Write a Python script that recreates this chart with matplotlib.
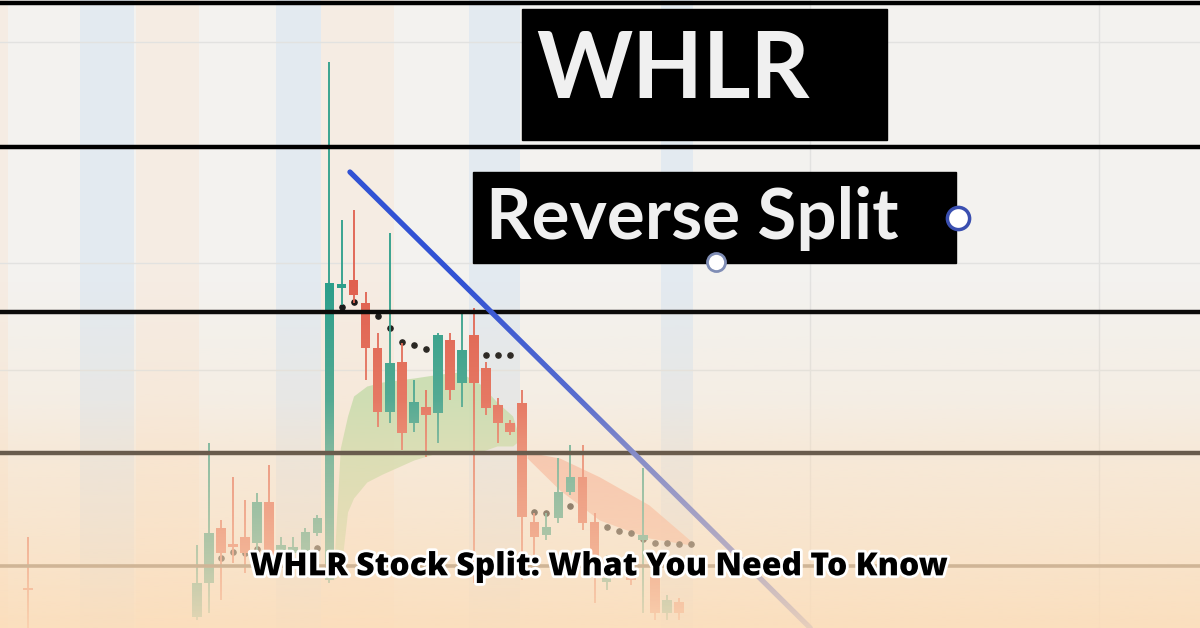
import numpy as np
import matplotlib.pyplot as plt
import matplotlib.patheffects as pe
from matplotlib.patches import Rectangle

# candle index (one step per session) and OHLC prices
cdl_idx = [-15, -1, 0, 1, 2, 3, 4, 5, 6, 7, 8, 9, 10, 11, 12, 13, 14, 15, 16, 17, 18, 19,
           20, 21, 22, 23, 24, 25, 26, 27, 28, 29, 30, 31, 32, 33, 35, 36, 37, 38, 39]
cdl_open = [0.97, 0.28, 1.13, 2.50, 2.10, 2.28, 2.13, 3.15, 1.78, 1.88, 1.88, 2.38, 1.20, 8.50,
            8.70, 8.13, 7.00, 5.40, 6.65, 5.13, 5.53, 5.38, 7.20, 6.13, 7.33, 6.50, 5.58, 5.13,
            5.63, 2.65, 2.33, 2.75, 3.40, 3.78, 2.65, 1.15, 1.33, 2.20, 1.28, 0.38, 0.65]
cdl_high = [2.28, 2.08, 4.63, 2.70, 3.78, 3.20, 3.38, 4.08, 2.28, 2.28, 2.50, 2.83, 14.15, 10.20,
            10.45, 8.40, 7.38, 9.88, 7.13, 6.20, 5.95, 7.38, 7.38, 7.88, 8.00, 6.65, 5.75, 5.20,
            5.95, 2.88, 2.88, 4.25, 4.58, 4.58, 2.88, 1.83, 1.45, 4.00, 1.45, 0.83, 0.75]
cdl_low = [0.00, 0.20, 0.38, 0.70, 1.63, 1.38, 1.88, 1.58, 1.65, 1.70, 1.78, 2.30, 1.13, 8.08,
           8.13, 6.20, 5.03, 5.13, 4.45, 4.90, 4.28, 4.63, 5.70, 5.53, 1.13, 5.33, 4.63, 4.83,
           1.20, 1.70, 2.20, 2.63, 3.33, 2.45, 0.63, 0.95, 1.08, 0.38, 0.20, 0.20, 0.20]
cdl_close = [0.95, 1.13, 2.38, 1.88, 2.03, 1.88, 3.15, 1.78, 2.08, 2.03, 2.40, 2.75, 8.63, 8.60,
             8.33, 7.00, 5.40, 6.63, 4.88, 5.65, 5.33, 7.33, 5.95, 6.95, 6.13, 5.50, 5.13, 4.90,
             2.78, 2.28, 2.53, 3.40, 3.78, 2.63, 1.45, 1.25, 1.20, 2.33, 0.38, 0.70, 0.38]

# dotted indicator
dot_idx = [1, 2, 3, 4, 9, 11, 12, 13, 14, 15, 16, 17, 18, 19, 20, 21, 22, 23, 24, 25,
           27, 28, 30, 33, 34, 35, 36, 37, 38, 39, 40]
dot_val = [1.75, 1.90, 1.88, 1.98, 2.00, 8.03, 8.15, 7.93, 7.80, 7.50, 7.15, 7.08, 6.98, 6.90,
           6.88, 6.85, 6.85, 6.83, 6.83, 6.83, 2.90, 2.88, 3.05, 2.53, 2.43, 2.38, 2.23, 2.13,
           2.13, 2.10, 2.10]

# green and red clouds
gcloud_x = [10.3, 10.9, 11.5, 12.0, 13.1, 14.4, 17.0, 19.2, 20.8, 22.5, 23.9, 25.2, 25.8]
gcloud_hi = [1.20, 4.50, 5.30, 5.80, 6.05, 6.15, 6.25, 6.35, 6.40, 6.10, 5.65, 5.30, 4.70]
gcloud_lo = [1.20, 1.30, 2.90, 3.25, 3.65, 3.85, 4.20, 4.40, 4.40, 4.40, 4.55, 4.55, 4.70]
rcloud_x = [26.4, 29.1, 32.4, 36.5, 39.9]
rcloud_hi = [4.40, 4.25, 3.78, 3.08, 2.20]
rcloud_lo = [4.25, 3.45, 2.70, 2.25, 2.08]

# drawn levels and trend line
level_black = [15.63, 12.03, 7.90, 4.38]
level_low = [1.55]
grid_y = [14.65, 9.13, 6.45]
grid_x = [49.9, 73.9]
trend_x = [11.7, 49.9]
trend_y = [11.40, 0.0]

stripes_blue = [(-10.7, -6.2), (5.56, 9.29), (21.6, 25.8), (37.5, 40.2)]
stripes_peach = [(-17.4, -16.7), (-6.06, -0.83), (9.29, 15.35)]

GREEN = '#2b9e8a'
RED = '#e0604f'

fig = plt.figure(figsize=(12, 6.28), dpi=100, facecolor='#f3f2ef')
ax = fig.add_axes([0, 0, 1, 1])
ax.set_facecolor('#f3f2ef')
ax.set_xlim(-17.34, 82.24)
ax.set_ylim(0, 15.7)
ax.axis('off')

for a, b in stripes_blue:
    ax.axvspan(a, b, color='#e3eaf0', zorder=0, lw=0)
for a, b in stripes_peach:
    ax.axvspan(a, b, color='#f5ece3', zorder=0, lw=0)
for g in grid_y:
    ax.axhline(g, color='#e2e2e0', lw=1, zorder=1)
for g in grid_x:
    ax.axvline(g, color='#e2e2e0', lw=1, zorder=1)

ax.fill_between(gcloud_x, gcloud_lo, gcloud_hi, color='#bcdcaa', alpha=0.85, lw=0, zorder=1.5)
ax.fill_between(rcloud_x, rcloud_lo, rcloud_hi, color='#f4ad9a', alpha=0.8, lw=0, zorder=1.5)

ax.scatter(dot_idx, dot_val, s=14, color='#111111', zorder=2)

for i, o, h, l, c in zip(cdl_idx, cdl_open, cdl_high, cdl_low, cdl_close):
    col = GREEN if c >= o else RED
    ax.vlines(i, l, h, color=col, lw=1.3, zorder=3)
    ax.bar(i, max(abs(c - o), 0.06), bottom=min(o, c), width=0.8, color=col, zorder=3)

for lv in level_black:
    ax.axhline(lv, color='black', lw=3.2, zorder=4)
for lv in level_low:
    ax.axhline(lv, color='#6b5a48', lw=2.6, zorder=4)

ax.plot(trend_x, trend_y, color='#3152d4', lw=3.8, solid_capstyle='round', zorder=4.5)

# peach wash fading the lower part of the screenshot
rows = np.linspace(0, 15.7, 300)
ypx = 628 - rows * 40
alpha = np.interp(ypx, [0, 280, 400, 453, 520, 566, 628], [0, 0, 0.2, 0.42, 0.58, 0.7, 0.9])
wash = np.zeros((len(rows), 1, 4))
wash[..., 0] = 252 / 255
wash[..., 1] = 221 / 255
wash[..., 2] = 185 / 255
wash[:, 0, 3] = alpha
ax.imshow(wash, extent=(-17.34, 82.24, 0, 15.7), origin='lower', aspect='auto',
          interpolation='bilinear', zorder=6)

# annotation boxes
fig.patches.append(Rectangle((0.435, 0.777), 0.304, 0.209, transform=fig.transFigure,
                             color='black', zorder=7))
fig.text(0.447, 0.885, 'WHLR', color='#f0f0f0', fontsize=66, family='Lato',
         weight='bold', va='center', ha='left', zorder=8)
fig.patches.append(Rectangle((0.394, 0.581), 0.403, 0.145, transform=fig.transFigure,
                             color='black', zorder=7))
fig.text(0.405, 0.652, 'Reverse Split', color='#f0f0f0', fontsize=51, family='Lato',
         weight='bold', va='center', ha='left', zorder=8)
fig.lines.append(plt.Line2D([0.798], [0.653], transform=fig.transFigure, marker='o', ms=16,
                            mfc='white', mec='#3a4fb0', mew=2.5, zorder=9))
fig.lines.append(plt.Line2D([0.597], [0.583], transform=fig.transFigure, marker='o', ms=13,
                            mfc='white', mec='#7f8db5', mew=2, zorder=9))

fig.text(0.5, 0.097, 'WHLR Stock Split: What You Need To Know', fontsize=23,
         family='Open Sans', weight='heavy', ha='center', va='center', color='black',
         path_effects=[pe.withStroke(linewidth=4, foreground='white')], zorder=10)

fig.savefig('out.png', dpi=100, facecolor=fig.get_facecolor())
